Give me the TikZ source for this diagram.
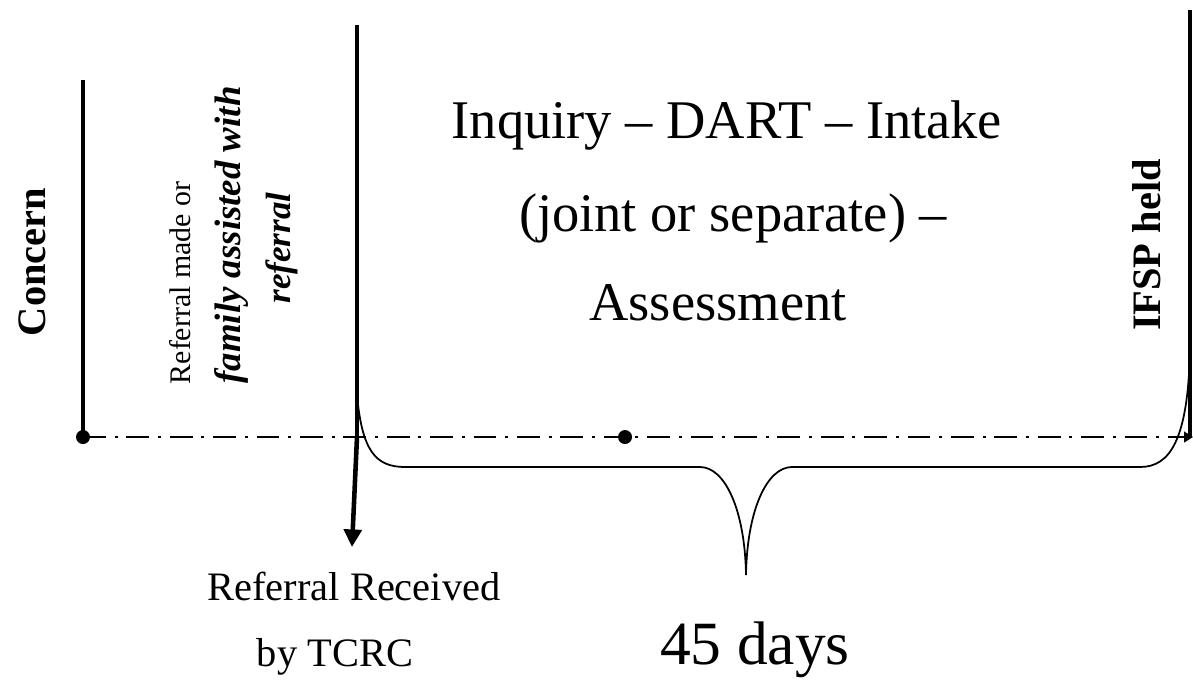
\documentclass[tikz,border=0pt]{standalone}
\usepackage{fontspec}
\setmainfont{Liberation Serif}
\usetikzlibrary{arrows.meta}

\begin{document}
\begin{tikzpicture}[x=0.02cm, y=-0.02cm,
    bar/.style={line width=2.8pt},
    dashdot/.style={line width=1.1pt, dash pattern=on 13pt off 5pt on 1.7pt off 5pt},
    brace/.style={line width=1pt},
    side/.style={rotate=90, anchor=base},
    big/.style={anchor=base, font=\fontsize{31}{36}\selectfont},
    small/.style={anchor=base, font=\fontsize{23}{26}\selectfont}]
    \useasboundingbox (0,0) rectangle (1193,681);
    % timeline
    \coordinate (c) at (83,437);
    \coordinate (ctop) at (83,80);
    \coordinate (r) at (357,437);
    \coordinate (rtop) at (357,25);
    \coordinate (rdown) at (352,547);
    \coordinate (mid) at (625,437);
    \coordinate (end) at (1193,437);
    \coordinate (itop) at (1190,10);
    \coordinate (ibot) at (1190,437);
    \draw[bar] (ctop) -- (c);
    \draw[bar] (rtop) -- ([yshift=-0.2cm]r);
    \draw[line width=2.6pt, -{Triangle[width=10pt,length=10pt]}] (r) -- (rdown);
    \draw[line width=2.2pt] (itop) -- (ibot);
    \draw[dashdot, -{Triangle[width=6pt,length=5pt]}] (c) -- (end);
    \fill (c) circle (7);
    \fill (mid) circle (7);
    % brace for the 45 days
    \coordinate (tip) at (746,575);
    \draw[brace] (357,395) .. controls (362,450) and (375,467) .. (405,467) -- (700,467)
      .. controls (725,467) and (745,510) .. (tip)
      .. controls (747,510) and (767,467) .. (792,467) -- (1140,467)
      .. controls (1170,467) and (1188,440) .. (1190,350);
    % labels
    \node[side, font=\fontsize{23}{27}\selectfont\bfseries] (concern) at (45,262) {Concern};
    \node[side, font=\fontsize{17}{20}\selectfont] (made) at (190,283) {Referral made or};
    \node[side, font=\fontsize{21}{24}\selectfont\bfseries\itshape] (family) at (240,235) {family assisted with};
    \node[side, font=\fontsize{20}{24}\selectfont\bfseries\itshape] (referral) at (290,248) {referral};
    \node[side, font=\fontsize{23}{27}\selectfont\bfseries] (ifsp) at (1160,245) {IFSP held};
    \node[big] (inquiry) at (727,138) {Inquiry – DART – Intake};
    \node[big] (joint) at (733,231) {(joint or separate) –};
    \node[big] (assess) at (718,320) {Assessment};
    \node[small] (received) at (354,600) {Referral Received};
    \node[small] (tcrc) at (335,666) {by TCRC};
    \node[anchor=base, font=\fontsize{35}{40}\selectfont] (days) at (755,664) {45 days};
\end{tikzpicture}
\end{document}
